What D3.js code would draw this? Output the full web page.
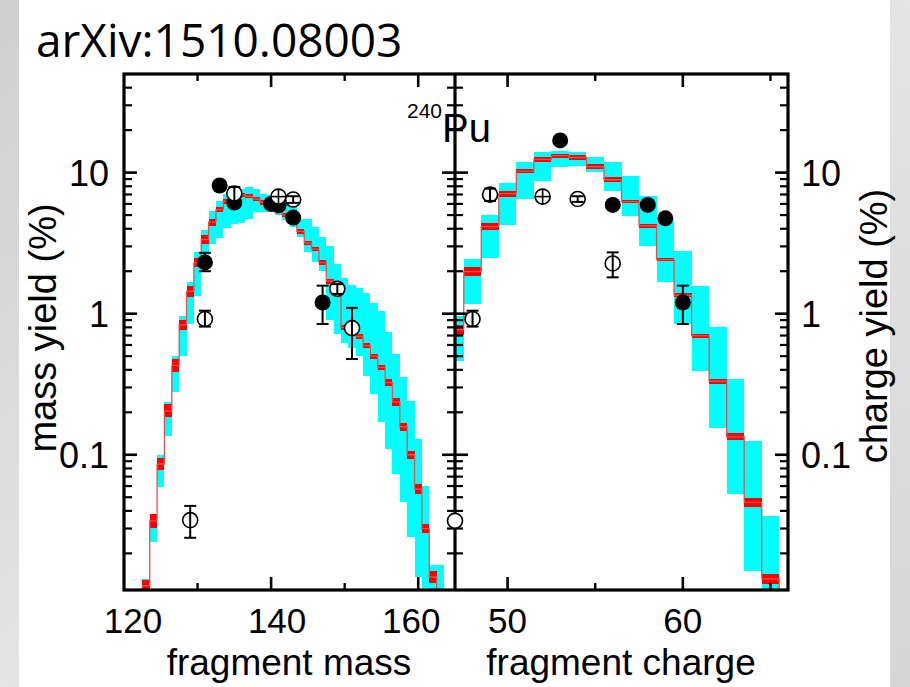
<!DOCTYPE html>
<html>
<head>
<meta charset="utf-8">
<script src="https://cdn.jsdelivr.net/npm/d3@7"></script>
<style>
  html, body { margin: 0; padding: 0; background: #dcdcdc; }
  svg { display: block; }
</style>
</head>
<body>
<svg id="chart" width="910" height="687"></svg>
<script>
// ---- model: fragment mass yields (%) per bin, red = central value with stat. spread, cyan = band ----
const massBins  = [123,124,125,126,127,128,129,130,131,132,133,134,135,136,137,138,139,140,141,142,143,144,145,146,147,148,149,150,151,152,153,154,155,156,157,158,159,160,161,162,163];
const massYield = [0.0118,0.034,0.086,0.205,0.43,0.83,1.44,2.3,3.35,4.46,5.46,6.28,6.9,6.95,6.8,6.5,6.15,5.85,5.45,5.0,4.5,3.83,3.18,2.87,2.3,1.7,1.5,0.8,0.74,0.69,0.593,0.5,0.417,0.325,0.237,0.158,0.1,0.057,0.03,0.0136,0.007];
const massStat  = [0.09,0.12,0.11,0.11,0.105,0.09,0.09,0.08,0.07,0.06,0.04,0.04,0.035,0.035,0.035,0.035,0.035,0.035,0.035,0.035,0.035,0.035,0.035,0.04,0.04,0.04,0.04,0.04,0.04,0.04,0.04,0.04,0.04,0.06,0.07,0.07,0.07,0.08,0.08,0.1,0.1];
const massLow   = [0.008,0.024,0.059,0.136,0.277,0.50,0.85,1.34,2.15,3.14,3.46,4.07,4.35,4.4,4.72,5.24,5.3,5.3,5.0,4.6,4.09,3.48,2.72,2.31,2.02,0.9,0.72,0.62,0.57,0.5,0.36,0.27,0.17,0.11,0.073,0.046,0.026,0.0135,0.0114,0.005,0.003];
const massHigh  = [0.0132,0.038,0.1,0.235,0.50,0.97,1.69,2.72,3.94,5.37,6.33,7.1,7.68,7.7,7.86,7.68,7.1,6.9,6.5,6.1,5.68,4.69,4.69,4.09,3.48,3.0,2.26,1.8,1.6,1.53,1.41,1.2,1.05,0.74,0.52,0.353,0.241,0.13,0.06,0.0165,0.0165];

// ---- model: fragment charge yields (%) ----
const chargeBins  = [47,48,49,50,51,52,53,54,55,56,57,58,59,60,61,62,63,64,65];
const chargeYield = [0.77,1.99,4.14,7.1,10.25,12.4,13.2,12.8,11.0,8.9,6.23,4.2,2.42,1.35,0.70,0.332,0.134,0.046,0.0132];
const chargeStat  = [0.085,0.08,0.06,0.05,0.04,0.04,0.033,0.035,0.04,0.04,0.03,0.03,0.03,0.033,0.033,0.04,0.056,0.08,0.085];
const chargeLow   = [0.46,1.18,2.5,4.27,6.55,8.77,10.9,11.2,10.1,7.45,4.95,3.03,1.67,0.85,0.394,0.156,0.053,0.0151,0.008];
const chargeHigh  = [0.97,2.45,5.04,8.5,11.8,13.9,14.3,13.9,13.0,11.8,9.5,6.87,4.56,2.8,1.58,0.80,0.345,0.126,0.037];

// ---- measurements ----
// filled circles
const massFilledA   = [131,133,135,140,141,143,147];
const massFilledY   = [2.31,8.1,6.13,6.0,5.85,4.8,1.2];
const massFilledLo  = [2.0,8.1,6.13,6.0,5.85,4.8,0.845];
const massFilledHi  = [2.7,8.1,6.13,6.0,5.85,4.8,1.58];
// open circles
const massOpenA   = [129,131,135,141,143,149,151,165];
const massOpenY   = [0.0344,0.917,7.1,6.76,6.44,1.5,0.79,0.034];
const massOpenLo  = [0.0258,0.81,6.3,6.76,6.1,1.38,0.477,0.034];
const massOpenHi  = [0.0434,1.05,7.9,6.76,6.8,1.62,1.1,0.034];
const massCrossA  = [141];

const chargeFilledZ  = [53,56,58,59,60];
const chargeFilledY  = [16.9,5.9,5.9,4.74,1.2];
const chargeFilledLo = [16.9,5.9,5.9,4.74,0.845];
const chargeFilledHi = [16.9,5.9,5.9,4.74,1.58];
const chargeOpenZ  = [48,49,52,54,56];
const chargeOpenY  = [0.917,6.98,6.76,6.5,2.27];
const chargeOpenLo = [0.81,6.3,6.76,6.2,1.81];
const chargeOpenHi = [1.05,7.7,6.76,6.8,2.72];
const chargeCrossZ = [52];

// axis tick labels
const yTickValues = [0.1, 1, 10];
const yTickLabels = ["0.1", "1", "10"];
const massTickValues = [120, 140, 160];
const chargeTickValues = [50, 60];

// ---- layout ----
const W = 910, H = 687;
const plotTop = 74, plotBottom = 590;
const leftX0 = 124, midX = 455, rightX1 = 788;
const FONT = "'Liberation Sans', Arial, sans-serif";
const massLabelNudge = { 120: 9, 140: 6, 160: -7 };

const svg = d3.select("#chart");

// slide-style backdrop
const defs = svg.append("defs");
const grad = defs.append("linearGradient").attr("id", "edge").attr("x1", 0).attr("y1", 0).attr("x2", 1).attr("y2", 1);
grad.append("stop").attr("offset", 0).attr("stop-color", "#cfcfcf");
grad.append("stop").attr("offset", 0.5).attr("stop-color", "#e4e4e4");
grad.append("stop").attr("offset", 1).attr("stop-color", "#d6d6d6");
svg.append("rect").attr("x", 0).attr("y", 0).attr("width", W).attr("height", H).attr("fill", "url(#edge)");
svg.append("rect").attr("x", 19).attr("y", 0).attr("width", 871).attr("height", H).attr("fill", "#ffffff");

const y = d3.scaleLog().domain([0.011, 50]).range([plotBottom, plotTop]);
const xMass = d3.scaleLinear().domain([120, 165]).range([leftX0, midX]);
const xCharge = d3.scaleLinear().domain([47, 66]).range([midX, rightX1]);

function drawPanel(g, x, bins, val, stat, lo, hi, clipId, x0, x1) {
  g.append("clipPath").attr("id", clipId)
    .append("rect").attr("x", x0).attr("y", plotTop).attr("width", x1 - x0).attr("height", plotBottom - plotTop);
  const body = g.append("g").attr("clip-path", `url(#${clipId})`);
  const data = bins.map((b, i) => ({ b, v: val[i], s: stat[i], lo: lo[i], hi: hi[i] }));
  // uncertainty band
  body.selectAll("rect.band").data(data).join("rect").attr("class", "band")
    .attr("x", d => x(d.b - 0.5)).attr("width", d => x(d.b + 0.5) - x(d.b - 0.5))
    .attr("y", d => y(d.hi)).attr("height", d => y(d.lo) - y(d.hi))
    .attr("fill", "#00ffff").attr("shape-rendering", "crispEdges");
  // central values with statistical spread
  body.selectAll("rect.stat").data(data).join("rect").attr("class", "stat")
    .attr("x", d => x(d.b - 0.5)).attr("width", d => x(d.b + 0.5) - x(d.b - 0.5))
    .attr("y", d => y(d.v * (1 + d.s))).attr("height", d => y(d.v / (1 + d.s)) - y(d.v * (1 + d.s)))
    .attr("fill", "#ff0000").attr("shape-rendering", "crispEdges");
  // step line through central values
  const pts = [];
  data.forEach(d => { pts.push([x(d.b - 0.5), y(d.v)]); pts.push([x(d.b + 0.5), y(d.v)]); });
  pts.unshift([x(data[0].b - 0.5), plotBottom + 5]);
  pts.push([x(data[data.length - 1].b + 0.5), plotBottom + 5]);
  body.append("path").attr("d", d3.line()(pts)).attr("fill", "none")
    .attr("stroke", "#e8504a").attr("stroke-width", 1.3);
}

function drawPoints(g, x, xs, ys, los, his, filled, crossList) {
  const data = xs.map((a, i) => ({ a, v: ys[i], lo: los[i], hi: his[i] }));
  const r = 8;
  const grp = g.append("g");
  data.forEach(d => {
    const cx = x(d.a), cy = y(d.v);
    const node = grp.append("g");
    node.append("circle").attr("cx", cx).attr("cy", cy).attr("r", filled ? r : r - 0.5)
      .attr("fill", filled ? "#000" : "#fff").attr("stroke", "#000").attr("stroke-width", filled ? 0 : 1.6);
    const ylo = y(d.lo), yhi = y(d.hi);
    if (Math.abs(ylo - yhi) > 1) {
      node.append("line").attr("x1", cx).attr("x2", cx).attr("y1", yhi).attr("y2", ylo)
        .attr("stroke", "#000").attr("stroke-width", 2);
      [yhi, ylo].forEach(yy => node.append("line").attr("x1", cx - 6).attr("x2", cx + 6)
        .attr("y1", yy).attr("y2", yy).attr("stroke", "#000").attr("stroke-width", 2));
    }
    if (crossList.includes(d.a)) {
      node.append("line").attr("x1", cx).attr("x2", cx).attr("y1", cy - r).attr("y2", cy + r)
        .attr("stroke", "#000").attr("stroke-width", 1.6);
      node.append("line").attr("x1", cx - r).attr("x2", cx + r).attr("y1", cy).attr("y2", cy)
        .attr("stroke", "#000").attr("stroke-width", 1.6);
    }
  });
}

const gL = svg.append("g");
drawPanel(gL, xMass, massBins, massYield, massStat, massLow, massHigh, "clipL", leftX0, midX);
const gR = svg.append("g");
drawPanel(gR, xCharge, chargeBins, chargeYield, chargeStat, chargeLow, chargeHigh, "clipR", midX, rightX1);

// ---- frames and ticks ----
const axes = svg.append("g").attr("stroke", "#000").attr("stroke-linecap", "butt");
function tickY(xPos, dir) {
  // log ticks: majors at decades, minors at 2..9
  const vals = [];
  for (let e = -2; e <= 1; e++) for (let m = 1; m <= 9; m++) {
    const v = m * Math.pow(10, e);
    if (v > 0.011 && v < 50) vals.push({ v, major: m === 1 });
  }
  vals.forEach(t => {
    const len = t.major ? 13 : 8;
    axes.append("line").attr("x1", xPos).attr("x2", xPos + dir * len)
      .attr("y1", y(t.v)).attr("y2", y(t.v)).attr("stroke-width", t.major ? 2.6 : 2.2);
  });
}
tickY(leftX0, 1);
tickY(midX, -1);
tickY(midX, 1);
tickY(rightX1, -1);

function tickX(x, majors, minors) {
  majors.forEach(v => {
    [[plotBottom, -1], [plotTop, 1]].forEach(([yy, dir]) => axes.append("line")
      .attr("x1", x(v)).attr("x2", x(v)).attr("y1", yy).attr("y2", yy + dir * 13).attr("stroke-width", 2.6));
  });
  minors.forEach(v => {
    [[plotBottom, -1], [plotTop, 1]].forEach(([yy, dir]) => axes.append("line")
      .attr("x1", x(v)).attr("x2", x(v)).attr("y1", yy).attr("y2", yy + dir * 7).attr("stroke-width", 2.4));
  });
}
tickX(xMass, [140, 160], [130, 150]);
tickX(xCharge, [50, 60], [55, 65]);

axes.append("rect").attr("x", leftX0).attr("y", plotTop).attr("width", rightX1 - leftX0).attr("height", plotBottom - plotTop)
  .attr("fill", "none").attr("stroke-width", 3.2);
axes.append("line").attr("x1", midX).attr("x2", midX).attr("y1", plotTop).attr("y2", plotBottom).attr("stroke-width", 3.2);

// ---- measured points (drawn over the frame) ----
drawPoints(svg, xMass, massFilledA, massFilledY, massFilledLo, massFilledHi, true, []);
drawPoints(svg, xMass, massOpenA, massOpenY, massOpenLo, massOpenHi, false, massCrossA);
drawPoints(svg, xCharge, chargeFilledZ, chargeFilledY, chargeFilledLo, chargeFilledHi, true, []);
drawPoints(svg, xCharge, chargeOpenZ, chargeOpenY, chargeOpenLo, chargeOpenHi, false, chargeCrossZ);

// ---- text ----
const txt = svg.append("g").attr("font-family", FONT).attr("fill", "#000");
yTickValues.forEach((v, i) => {
  txt.append("text").attr("x", 109).attr("y", y(v) + 13).attr("text-anchor", "end")
    .attr("font-size", 36).text(yTickLabels[i]);
  txt.append("text").attr("x", 801).attr("y", y(v) + 13).attr("text-anchor", "start")
    .attr("font-size", 36).text(yTickLabels[i]);
});
massTickValues.forEach(v => txt.append("text").attr("x", xMass(v) + massLabelNudge[v]).attr("y", 633)
  .attr("text-anchor", "middle").attr("font-size", 35).text(v));
chargeTickValues.forEach(v => txt.append("text").attr("x", xCharge(v)).attr("y", 633)
  .attr("text-anchor", "middle").attr("font-size", 35).text(v));

txt.append("text").attr("x", 289).attr("y", 675).attr("text-anchor", "middle").attr("font-size", 37).text("fragment mass");
txt.append("text").attr("x", 621).attr("y", 675).attr("text-anchor", "middle").attr("font-size", 37).text("fragment charge");
txt.append("text").attr("transform", "translate(56,328) rotate(-90)").attr("text-anchor", "middle")
  .attr("font-size", 38).text("mass yield (%)");
txt.append("text").attr("transform", "translate(887,326) rotate(-90)").attr("text-anchor", "middle")
  .attr("font-size", 38).text("charge yield (%)");

const nuc = txt.append("text").attr("x", 407).attr("y", 142).attr("font-size", 40);
nuc.append("tspan").attr("font-size", 21).attr("dy", -24).text("240");
nuc.append("tspan").attr("dy", 24).text("Pu");

svg.append("text").attr("x", 36).attr("y", 57).attr("font-family", "'Open Sans', 'Noto Sans', sans-serif")
  .attr("font-size", 46).attr("fill", "#000").text("arXiv:1510.08003");
</script>
</body>
</html>
